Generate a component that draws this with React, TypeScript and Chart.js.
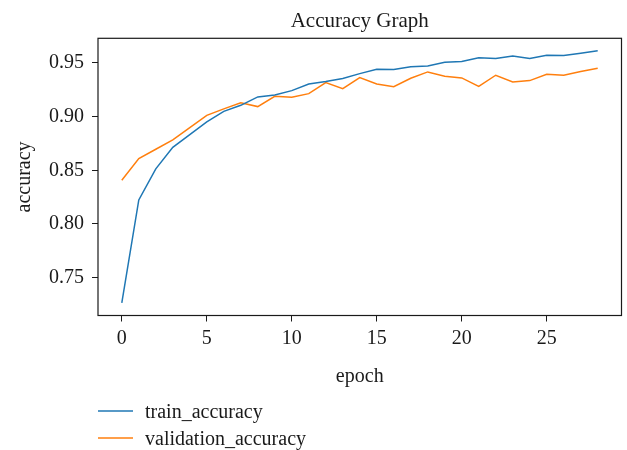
import React, { useEffect, useRef } from "react";
import { Chart, registerables } from "chart.js";

Chart.register(...registerables);

const epochs = [0, 1, 2, 3, 4, 5, 6, 7, 8, 9, 10, 11, 12, 13, 14, 15, 16, 17, 18, 19, 20, 21, 22, 23, 24, 25, 26, 27, 28];
const trainAccuracy = [0.7265, 0.8224, 0.8513, 0.8714, 0.8832, 0.8951, 0.9049, 0.9105, 0.9183, 0.9202, 0.9242, 0.9304, 0.9326, 0.9354, 0.94, 0.944, 0.9438, 0.9463, 0.9472, 0.9506, 0.9512, 0.9547, 0.954, 0.9565, 0.954, 0.9571, 0.9568, 0.9589, 0.9612];
const validationAccuracy = [0.8407, 0.8609, 0.8696, 0.8783, 0.8898, 0.9012, 0.9072, 0.9128, 0.9093, 0.9189, 0.918, 0.9214, 0.9317, 0.926, 0.9363, 0.9304, 0.9279, 0.9357, 0.9416, 0.9375, 0.936, 0.9282, 0.9385, 0.9323, 0.9335, 0.9394, 0.9385, 0.9419, 0.945];
const seriesLabels = ["train_accuracy", "validation_accuracy"];
const xTicks = [0, 5, 10, 15, 20, 25];
const yTicks = [0.75, 0.8, 0.85, 0.9, 0.95];

const FONT = "'Liberation Serif', 'Times New Roman', serif";
const INK = "#1a1a1a";

const boxPlugin = {
  id: "boxPlugin",
  afterDatasetsDraw(chart: any) {
    const { ctx, chartArea } = chart;
    ctx.save();
    ctx.strokeStyle = INK;
    ctx.lineWidth = 1.2;
    ctx.strokeRect(chartArea.left, chartArea.top, chartArea.right - chartArea.left, chartArea.bottom - chartArea.top);
    ctx.restore();
  },
};

const legendPlugin = {
  id: "customLegend",
  afterDraw(chart: any) {
    const { ctx } = chart;
    ctx.save();
    ctx.font = `20px ${FONT}`;
    ctx.textBaseline = "alphabetic";
    ctx.textAlign = "left";
    chart.data.datasets.forEach((ds: any, i: number) => {
      const y = 411 + i * 27;
      ctx.strokeStyle = ds.borderColor;
      ctx.lineWidth = 1.5;
      ctx.beginPath();
      ctx.moveTo(98, y);
      ctx.lineTo(133, y);
      ctx.stroke();
      ctx.fillStyle = INK;
      ctx.fillText(ds.label, 145, y + 7.3);
    });
    ctx.restore();
  },
};

export default function App() {
  const ref = useRef<HTMLCanvasElement | null>(null);
  useEffect(() => {
    if (!ref.current) return;
    const chart = new Chart(ref.current, {
      type: "line",
      data: {
        datasets: [
          {
            label: seriesLabels[0],
            data: epochs.map((e, i) => ({ x: e, y: trainAccuracy[i] })),
            borderColor: "#1f77b4",
            backgroundColor: "#1f77b4",
            borderWidth: 1.5,
            pointRadius: 0,
            tension: 0,
          },
          {
            label: seriesLabels[1],
            data: epochs.map((e, i) => ({ x: e, y: validationAccuracy[i] })),
            borderColor: "#ff7f0e",
            backgroundColor: "#ff7f0e",
            borderWidth: 1.5,
            pointRadius: 0,
            tension: 0,
          },
        ],
      },
      options: {
        animation: false,
        responsive: false,
        layout: { padding: { top: 0, left: 0, right: 5.5, bottom: 54.5 } },
        plugins: {
          legend: { display: false },
          tooltip: { enabled: false },
          title: {
            display: true,
            fullSize: false,
            text: "Accuracy Graph",
            color: INK,
            font: { family: FONT, size: 21, weight: "normal" },
            padding: { top: 8.4, bottom: 4.7 },
          },
        },
        scales: {
          x: {
            type: "linear",
            min: -1.4,
            max: 29.4,
            afterBuildTicks: (scale: any) => {
              scale.ticks = xTicks.map((v) => ({ value: v }));
            },
            afterFit: (scale: any) => {
              scale.height = 80;
            },
            ticks: {
              color: INK,
              font: { family: FONT, size: 20 },
              padding: 5,
              maxRotation: 0,
              autoSkip: false,
              callback: (v: any) => String(v),
            },
            grid: { drawOnChartArea: false, drawTicks: true, tickLength: 6, color: INK, lineWidth: 1 },
            border: { display: false },
            title: {
              display: true,
              text: "epoch",
              color: INK,
              font: { family: FONT, size: 20 },
              padding: { top: 0, bottom: 6.5 },
            },
          },
          y: {
            type: "linear",
            min: 0.7148,
            max: 0.9729,
            afterBuildTicks: (scale: any) => {
              scale.ticks = yTicks.map((v) => ({ value: v }));
            },
            afterFit: (scale: any) => {
              scale.width = 98;
            },
            ticks: {
              color: INK,
              font: { family: FONT, size: 20 },
              padding: 8,
              autoSkip: false,
              callback: (v: any) => Number(v).toFixed(2),
            },
            grid: { drawOnChartArea: false, drawTicks: true, tickLength: 6, color: INK, lineWidth: 1 },
            border: { display: false },
            title: {
              display: true,
              text: "accuracy",
              color: INK,
              font: { family: FONT, size: 20 },
              padding: { top: 13, bottom: 0 },
            },
          },
        },
      },
      plugins: [boxPlugin, legendPlugin],
    } as any);
    return () => chart.destroy();
  }, []);
  return (
    <div style={{ position: "fixed", left: 0, top: 0, width: 627, height: 450, background: "#fff" }}>
      <canvas ref={ref} width={627} height={450} style={{ display: "block" }} />
    </div>
  );
}
